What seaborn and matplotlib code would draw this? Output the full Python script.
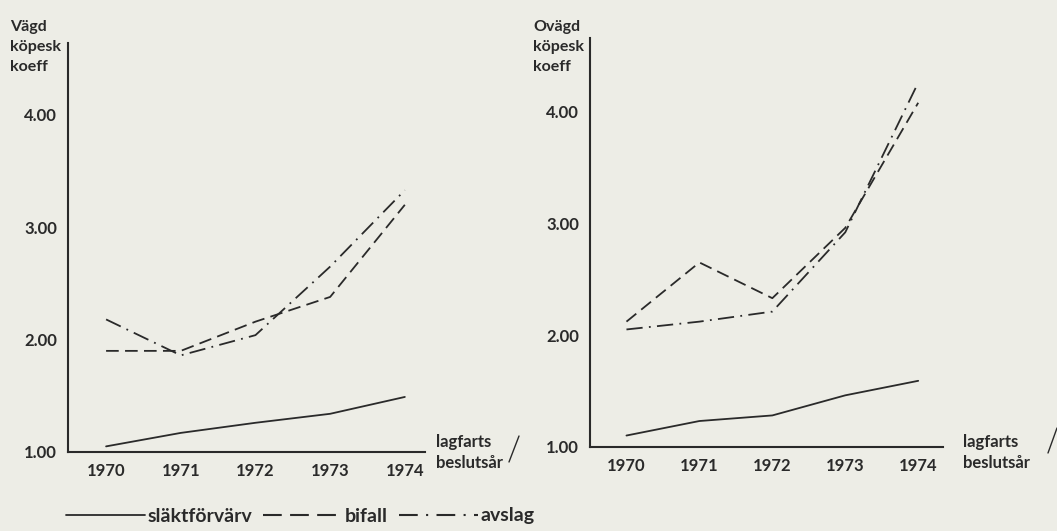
import seaborn as sns
import matplotlib.pyplot as plt
import pandas as pd
import numpy as np
from matplotlib.lines import Line2D

# Vägd / ovägd köpeskillingskoefficient per lagfartsår
years = [1970, 1971, 1972, 1973, 1974]
series = ["släktförvärv", "bifall", "avslag"]

vagd_slakt = [1.05, 1.17, 1.26, 1.34, 1.49]
vagd_bifall = [1.90, 1.90, 2.16, 2.38, 3.20]
vagd_avslag = [2.18, 1.86, 2.04, 2.65, 3.33]

ovagd_slakt = [1.10, 1.23, 1.28, 1.46, 1.59]
ovagd_bifall = [2.12, 2.65, 2.33, 2.96, 4.08]
ovagd_avslag = [2.05, 2.12, 2.21, 2.92, 4.26]

yticks = [1.0, 2.0, 3.0, 4.0]
ylabels_left = ["Vägd", "köpesk", "koeff"]
ylabels_right = ["Ovägd", "köpesk", "koeff"]


def long_df(slakt, bifall, avslag):
    return pd.DataFrame({
        "år": years * 3,
        "koeff": slakt + bifall + avslag,
        "typ": [s for s in series for _ in years],
    })


df_left = long_df(vagd_slakt, vagd_bifall, vagd_avslag)
df_right = long_df(ovagd_slakt, ovagd_bifall, ovagd_avslag)

bg = "#edede6"
ink = "#2a2a2a"

sns.set_style("white")
plt.rcParams["font.family"] = ["Lato", "DejaVu Sans"]

fig = plt.figure(figsize=(10.57, 5.31), dpi=100, facecolor=bg)
W, H = 1057, 531

dashes = {"släktförvärv": "", "bifall": (7, 3.5), "avslag": (9, 3.5, 1, 3.5)}


def panel(rect, df, xlim, ylim):
    ax = fig.add_axes(rect)
    ax.set_facecolor(bg)
    sns.lineplot(data=df, x="år", y="koeff", style="typ", dashes=dashes,
                 color=ink, linewidth=1.3, ax=ax, legend=False)
    ax.set_xlim(*xlim)
    ax.set_ylim(*ylim)
    ax.set_xticks(years)
    ax.set_xticklabels([str(y) for y in years], fontweight="bold")
    ax.set_yticks(yticks)
    ax.set_yticklabels([f"{v:.2f}" for v in yticks], fontweight="bold")
    for s in ["top", "right"]:
        ax.spines[s].set_visible(False)
    for s in ["left", "bottom"]:
        ax.spines[s].set_color(ink)
        ax.spines[s].set_linewidth(1.5)
    ax.tick_params(axis="both", direction="out", length=6, width=1.5,
                   color=ink, labelcolor=ink, labelsize=12, pad=2)
    ax.set_xlabel("")
    ax.set_ylabel("")
    return ax


ax1 = panel([68 / W, 1 - 452 / H, (425 - 68) / W, (452 - 43) / H], df_left,
            (1969.49, 1974.27), (1.0, 4.64))
ax2 = panel([590 / W, 1 - 446.7 / H, (943 - 590) / W, (446.7 - 38) / H], df_right,
            (1969.5, 1974.34), (1.0, 4.66))

# y-axis titles (three lines above each axis)
for x0, lines in [(10, ylabels_left), (533, ylabels_right)]:
    for i, t in enumerate(lines):
        fig.text(x0 / W, 1 - (27 + i * 20) / H, t, fontsize=11.5,
                 fontweight="bold", color=ink, va="center", ha="left")

# x-axis titles with slash
for x0, sl in [(436, (519, 436, 509, 462)), (963, (1057, 428, 1048, 453))]:
    fig.text(x0 / W, 1 - 442 / H, "lagfarts", fontsize=12, fontweight="bold",
             color=ink, va="center", ha="left")
    fig.text(x0 / W, 1 - 463 / H, "beslutsår", fontsize=12, fontweight="bold",
             color=ink, va="center", ha="left")
    fig.add_artist(Line2D([sl[0] / W, sl[2] / W], [1 - sl[1] / H, 1 - sl[3] / H],
                          color=ink, linewidth=1.0))

# legend at the bottom
handles = [Line2D([], [], color=ink, linewidth=1.3, linestyle="-"),
           Line2D([], [], color=ink, linewidth=1.5, dashes=(9, 4)),
           Line2D([], [], color=ink, linewidth=1.5, dashes=(9, 4, 1, 4))]
fig.legend(handles, series, loc="center left", bbox_to_anchor=(48 / W, 1 - 516 / H),
           ncol=3, frameon=False, handlelength=4.1,
           handletextpad=0.12, columnspacing=0.55, labelcolor=ink,
           prop={"weight": "bold", "size": 14})

fig.savefig("out.png", dpi=100, facecolor=bg)
